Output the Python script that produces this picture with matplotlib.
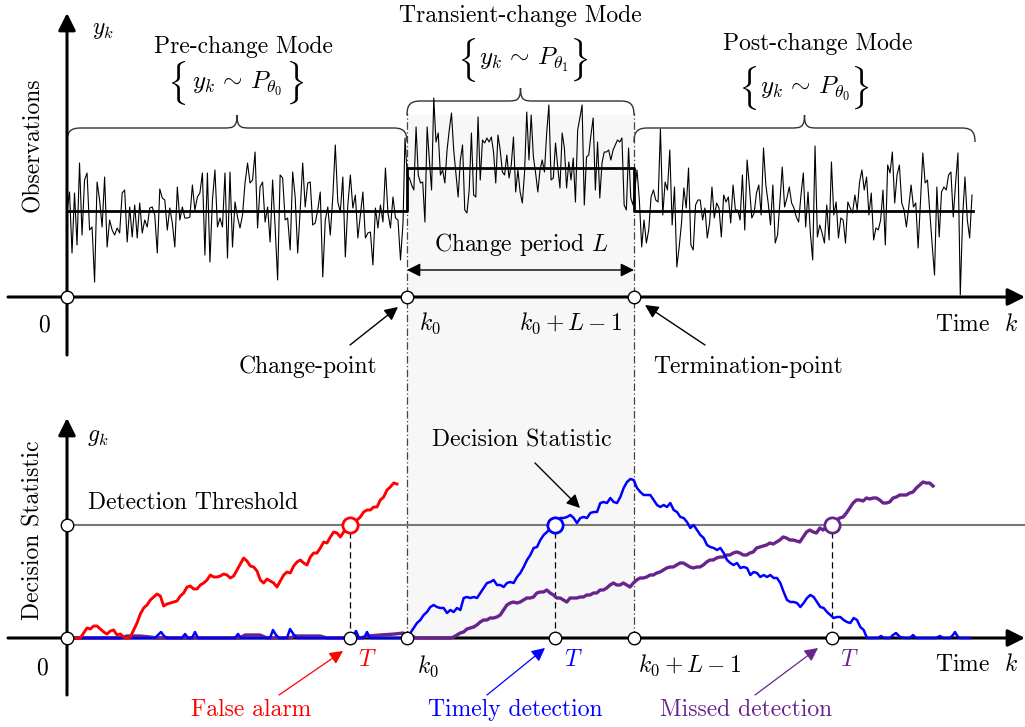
import numpy as np
import matplotlib.pyplot as plt
from matplotlib.path import Path
from matplotlib.patches import PathPatch, Rectangle

plt.rcParams['font.family'] = 'serif'
plt.rcParams['font.serif'] = ['cmr10']
plt.rcParams['mathtext.fontset'] = 'cm'
plt.rcParams['axes.unicode_minus'] = False

# --- data (time in arbitrary units, values in arbitrary units) ---
k0 = 340
L = 228
k_end = 905
pre_mean = 86
change_mean = 129
h = 113                      # detection threshold
T_false, T_timely, T_missed = 283, 488, 765

obs_pre = [86, 105, 44, 104, 52, 134, 62, 117, 124, 67, 70, 15, 115, 97, 70, 120, 50, 77, 67, 62,
           69, 64, 104, 107, 55, 90, 60, 92, 59, 94, 64, 77, 70, 89, 90, 82, 44, 108, 99, 97,
           67, 89, 74, 50, 110, 77, 90, 79, 79, 80, 112, 87, 100, 104, 124, 42, 124, 35, 97, 127,
           70, 79, 70, 124, 39, 125, 50,
           95, 80, 69, 82, 114, 134, 114, 117, 145, 69, 110, 115, 75, 90, 55, 117, 70, 17, 122, 119,
           77, 79, 47, 125, 100, 44, 87, 134, 90, 114, 115, 72, 74, 87, 105, 20, 77, 90, 62, 100,
           152, 95, 85, 120, 40, 92, 122, 89, 102, 59, 82, 105, 59, 64, 65, 32, 89, 69, 92, 75,
           129, 84, 69, 100, 79, 77, 37, 74]
obs_change = [159, 122, 119, 112, 107, 170, 122, 114, 115, 75, 170, 137, 107, 199, 155, 164, 122, 127, 114, 147,
              167, 184, 147, 124, 100, 137, 152, 87, 84, 107, 164, 102, 100, 180, 117, 157, 154, 159, 155, 160,
              145, 114, 162, 147, 125, 122, 142, 119, 132, 160, 105, 127, 105, 94, 124, 185, 137, 182, 140, 124,
              105, 127, 137, 125, 164, 192, 117, 119, 154, 130, 109, 164, 149, 109, 135, 117, 139, 95, 167, 179,
              192, 92, 140, 142, 162, 179, 107, 155, 99, 134, 145, 145, 147, 137, 147, 152, 157, 155, 159, 92,
              87, 149, 99, 92]
obs_post = [127, 97, 50, 77, 54, 67, 100, 107, 97, 95, 168, 82, 115, 107, 147, 72, 110, 30, 50, 74,
            109, 89, 129, 52, 47, 92, 97, 97, 77, 89, 59, 74, 110, 79, 94, 89, 60, 102, 95, 100,
            74, 112, 87, 87, 77, 122, 67, 137, 110, 79, 84, 104, 112, 82, 149, 112, 94, 72, 112, 54,
            62, 95, 130, 90, 99, 110, 94, 89, 80, 75, 102, 124,
            70, 105, 64, 37, 151, 60, 72, 64, 54, 92, 57, 135, 82, 95, 59, 79, 77, 54, 95, 89,
            84, 102, 87, 115, 127, 107, 120, 82, 104, 57, 69, 67, 77, 107, 52, 132, 124, 145, 94, 122,
            132, 94, 87, 70, 90, 112, 90, 94, 49, 95, 144, 114, 117, 84, 52, 22, 110, 60, 105, 110,
            107, 122, 125, 80, 114, 144, 2, 80, 120, 77, 59, 102]

# false alarm path (red), evenly sampled from 0 to 330
g_red = [0, 0, 0, 0, 0, 5, 10, 9, 12, 12, 9, 6, 4, 7, 8, 3, 4, 1, 0, 1,
         8, 15, 24, 30, 33, 38, 41, 44, 42, 32, 34, 35, 36, 37, 42, 45, 51, 52, 49, 49,
         53, 55, 58, 63, 61, 61, 62, 64, 63, 60, 62, 68, 74, 80, 77, 72, 71, 67, 58, 55,
         59, 57, 55, 51, 57, 63, 66, 65, 72, 76, 78, 75, 73, 81, 85, 85, 90, 96, 95, 101,
         106, 105, 101, 106, 111, 113, 116, 118, 121, 126, 128, 128, 131, 131, 138, 141, 148, 151, 155, 154]

# timely detection path (blue)
t_blue_pre = [0, 88, 91, 94, 97, 100, 115, 118, 121, 125, 128, 131, 168, 171, 174, 203, 206, 209, 212,
              220, 223, 227, 230, 285, 289, 292, 297, 300, 303, 335]
g_blue_pre = [0, 0, 3, 6, 2, 0, 0, 4, 0, 0, 6, 0, 0, 4, 0, 0, 8, 3, 0,
              0, 9, 3, 0, 0, 7, 0, 0, 6, 0, 0]
g_blue = [3, 5, 10, 15, 18, 23, 26, 31, 33, 31, 30, 30, 25, 28, 26, 30, 28, 40, 41, 40,
          41, 40, 45, 50, 55, 56, 58, 53, 53, 51, 55, 56, 55, 61, 65, 71, 78, 83, 90, 91,
          98, 103, 106, 110, 113, 116, 120, 120, 121, 123, 120, 115, 120, 121, 120, 125, 126, 126, 135, 136,
          135, 140, 136, 135, 141, 150, 156, 159, 158, 150, 146, 143, 143, 143, 138, 133, 131, 133, 131, 135,
          128, 126, 121, 120, 116, 110, 113, 108, 103,
          100, 93, 91, 90, 88, 90, 85, 78, 75, 73, 75, 70, 71, 70, 63, 66, 65, 61, 63, 61,
          63, 60, 60, 55, 46, 38, 36, 36, 35, 31, 35, 40, 43, 41, 36, 31, 30, 26, 23, 20,
          21, 21, 18, 16, 15, 20, 18, 11, 8, 0]
t_blue_tail = [800, 811, 814, 817, 823, 826, 829, 833, 838, 843, 846, 849, 869, 873, 876, 883, 886, 888, 891, 893, 903]
g_blue_tail = [0, 0, 2, 0, 0, 3, 5, 1, 0, 0, 3, 0, 0, 2, 0, 0, 3, 6, 1, 0, 0]

# missed detection path (purple)
t_purple_pre = [0, 53, 60, 73, 83, 90, 173, 178, 193, 200, 223, 228, 253, 260, 293, 301, 313, 328, 336]
g_purple_pre = [0, 0, 2, 2, 1, 0, 0, 3, 3, 0, 0, 2, 2, 0, 0, 2, 3, 4, 5]
g_purple = [3, 2, 1, 0, 0, 0, 0, 0, 0, 0, 0, 0, 0, 0, 1, 3, 5, 6, 9, 10,
            11, 13, 16, 18, 18, 20, 20, 21, 23, 28, 33, 35, 36, 35, 36, 38, 40, 40, 41, 45,
            46, 46, 48, 45, 43, 40, 40, 38, 36, 40, 40, 40, 41, 41, 43, 43, 45, 45, 48, 48,
            50, 53, 55, 53, 53, 55, 53, 51, 55, 58, 60, 60, 61, 63, 63, 65, 66, 68, 70, 71,
            71, 73, 75, 75, 73, 71, 70, 71, 71,
            73, 76, 78, 78, 80, 81, 81, 83, 83, 85, 86, 85, 83, 83, 85, 86, 90, 91, 92, 93,
            95, 94, 96, 98, 101, 100, 98, 98, 97, 96, 101, 106, 108, 106, 105, 110, 108, 111, 113, 115,
            118, 120, 121, 125, 130, 135, 138, 138, 137, 140, 139, 140, 140, 138, 135, 135, 136, 140, 141, 143,
            143, 143, 145, 146, 150, 153, 156, 155, 155, 152]

red = '#ff0000'
blue = '#0000ff'
purple = '#68248c'
FS = 17

fig = plt.figure(figsize=(10.25, 7.27), dpi=100)
ax_bot = fig.add_axes([0, 0, 1, 1])
ax_top = fig.add_axes([0, 0, 1, 1])
for ax in (ax_bot, ax_top):
    ax.set_xlim(-67, 958)
    ax.axis('off')
    ax.patch.set_alpha(0)
ax_top.set_ylim(-430, 297)
ax_bot.set_ylim(-89, 638)
k1 = k0 + L - 1


def axis_arrow(ax, start, end, lw=2.2):
    ax.annotate('', xy=end, xytext=start,
                arrowprops=dict(arrowstyle='-|>', lw=lw, color='black',
                                mutation_scale=26, shrinkA=0, shrinkB=0))


def brace(ax, x0, x1, y0, d=14, tip=13, r=14):
    xm = (x0 + x1) / 2
    yl = y0 + d
    verts = [(x0, y0), (x0, y0 + d * 0.8), (x0 + r * 0.3, yl), (x0 + r, yl),
             (xm - r, yl), (xm - r * 0.3, yl), (xm, yl), (xm, yl + tip),
             (xm, yl), (xm + r * 0.3, yl), (xm + r, yl),
             (x1 - r, yl), (x1 - r * 0.3, yl), (x1, y0 + d * 0.8), (x1, y0)]
    codes = [Path.MOVETO, Path.CURVE4, Path.CURVE4, Path.CURVE4,
             Path.LINETO, Path.CURVE4, Path.CURVE4, Path.CURVE4,
             Path.CURVE4, Path.CURVE4, Path.CURVE4,
             Path.LINETO, Path.CURVE4, Path.CURVE4, Path.CURVE4]
    ax.add_patch(PathPatch(Path(verts, codes), fill=False, lw=1.0, color='#333333'))


def set_formula(ax, xc, y, theta, half=59):
    # large braces drawn separately so they wrap the expression like \Big\{ ... \Big\}
    ax.text(xc - half, y, r'$\{$', fontsize=26, ha='center', va='center')
    ax.text(xc + half, y, r'$\}$', fontsize=26, ha='center', va='center')
    ax.text(xc + 1, y, r'$y_k\,\sim\,P_{\theta_%s}$' % theta,
            fontsize=FS + 1, ha='center', va='center')


def open_circle(ax, x, y, ec='black', ms=9, mew=1.0):
    ax.plot(x, y, 'o', ms=ms, mfc='white', mec=ec, mew=mew, zorder=10, clip_on=False)


# shaded transient period + boundary lines (span both panels)
ax_bot.add_patch(Rectangle((k0, 0), k1 - k0, 523, color='#f7f7f7', zorder=0, clip_on=False))
for xv in (k0, k1):
    ax_bot.plot([xv, xv], [0, 525], color='#444444', lw=0.9, ls=(0, (6, 2, 1, 2)), zorder=1)

# ---------- top panel: observations ----------
x_pre = np.linspace(0, k0 - 4, len(obs_pre))
x_chg = np.linspace(k0 - 2, k1 - 1, len(obs_change))
x_post = np.linspace(k1 + 3, k_end, len(obs_post))
ax_top.plot(np.concatenate([x_pre, x_chg, x_post]), obs_pre + obs_change + obs_post,
            color='black', lw=0.8, zorder=3)
ax_top.plot([0, k0, k0, k1, k1, k_end + 1],
            [pre_mean, pre_mean, change_mean, change_mean, pre_mean, pre_mean],
            color='black', lw=2.0, zorder=4)

axis_arrow(ax_top, (0, -58), (0, 284))
axis_arrow(ax_top, (-59, 0), (958, 0))
for xv in (0, k0, k1):
    open_circle(ax_top, xv, 0)

brace(ax_top, 0, k0, 155)
brace(ax_top, k0, k1, 182)
brace(ax_top, k1, 908, 155)

ax_top.text(36, 267, r'$y_k$', fontsize=FS, ha='center', va='center')
ax_top.text(176, 250, 'Pre-change Mode', fontsize=FS, ha='center', va='center')
set_formula(ax_top, 169, 214, '0')
ax_top.text(453, 281, 'Transient-change Mode', fontsize=FS, ha='center', va='center')
set_formula(ax_top, 456, 237, '1', half=56)
ax_top.text(751, 253, 'Post-change Mode', fontsize=FS, ha='center', va='center')
set_formula(ax_top, 737, 209, '0', half=56)
ax_top.text(-34, 152, 'Observations', fontsize=FS, ha='center', va='center', rotation=90)

ax_top.text((k0 + k1) / 2 + 1, 52, r'Change period $L$', fontsize=FS, ha='center', va='center')
ax_top.annotate('', xy=(k0, 27), xytext=(k1, 27),
                arrowprops=dict(arrowstyle='<|-|>', lw=1.0, color='black',
                                mutation_scale=20, shrinkA=0, shrinkB=0))

ax_top.text(-23, -28, '0', fontsize=FS, ha='center', va='center')
ax_top.text(k0 + 23, -26, r'$k_0$', fontsize=FS, ha='center', va='center')
ax_top.text(k1 - 63, -26, r'$k_0+L-1$', fontsize=FS, ha='center', va='center')
ax_top.text(951, -28, r'Time  $k$', fontsize=FS, ha='right', va='center')
ax_top.text(241, -70, 'Change-point', fontsize=FS, ha='center', va='center')
ax_top.annotate('', xy=(331, -10), xytext=(283, -48),
                arrowprops=dict(arrowstyle='-|>', lw=1.0, color='black', mutation_scale=20,
                                shrinkA=0, shrinkB=0))
ax_top.text(681, -70, 'Termination-point', fontsize=FS, ha='center', va='center')
ax_top.annotate('', xy=(578, -8), xytext=(638, -48),
                arrowprops=dict(arrowstyle='-|>', lw=1.0, color='black', mutation_scale=20,
                                shrinkA=0, shrinkB=0))

# ---------- bottom panel: decision statistic ----------
ax_bot.plot([0, 958], [h, h], color='#777777', lw=1.5, zorder=2)
x_red = np.linspace(0, 330, len(g_red))
x_blue = np.linspace(k0, 800, len(g_blue))
x_purple = np.linspace(k0, 866, len(g_purple))
ax_bot.plot(t_purple_pre + list(x_purple), g_purple_pre + g_purple, color=purple, lw=2.4, zorder=5)
ax_bot.plot(t_blue_pre + list(x_blue) + t_blue_tail, g_blue_pre + g_blue + g_blue_tail,
            color=blue, lw=1.8, zorder=6)
ax_bot.plot(x_red, g_red, color=red, lw=2.1, zorder=7)

axis_arrow(ax_bot, (0, -57), (0, 220))
axis_arrow(ax_bot, (-59, 0), (958, 0))

for tv, c in ((T_false, red), (T_timely, blue), (T_missed, purple)):
    ax_bot.plot([tv, tv], [0, h], color='black', lw=0.9, ls=(0, (5, 3)), zorder=3)
    open_circle(ax_bot, tv, h, ec=c, ms=11, mew=2.0)
for xv in (0, T_false, k0, T_timely, k1, T_missed):
    open_circle(ax_bot, xv, 0)
open_circle(ax_bot, 0, h)

ax_bot.text(31, 201, r'$g_k$', fontsize=FS, ha='center', va='center')
ax_bot.text(-34, 108, 'Decision Statistic', fontsize=FS, ha='center', va='center', rotation=90)
ax_bot.text(21, 135, 'Detection Threshold', fontsize=FS, ha='left', va='center')
ax_bot.text(455, 198, 'Decision Statistic', fontsize=FS, ha='center', va='center')
ax_bot.annotate('', xy=(513, 130), xytext=(468, 175),
                arrowprops=dict(arrowstyle='-|>', lw=1.0, color='black', mutation_scale=20,
                                shrinkA=0, shrinkB=0))

ax_bot.text(-25, -30, '0', fontsize=FS, ha='center', va='center')
ax_bot.text(T_false + 17, -22, r'$T$', fontsize=FS, ha='center', va='center', color=red)
ax_bot.text(k0 + 21, -28, r'$k_0$', fontsize=FS, ha='center', va='center')
ax_bot.text(T_timely + 18, -22, r'$T$', fontsize=FS, ha='center', va='center', color=blue)
ax_bot.text(k1 + 56, -27, r'$k_0+L-1$', fontsize=FS, ha='center', va='center')
ax_bot.text(T_missed + 17, -22, r'$T$', fontsize=FS, ha='center', va='center', color=purple)
ax_bot.text(951, -27, r'Time  $k$', fontsize=FS, ha='right', va='center')

for label, c, txt_x, tail, head in (('False alarm', red, 184, (212, -57), (276, -13)),
                                    ('Timely detection', blue, 448, (420, -57), (478, -10)),
                                    ('Missed detection', purple, 679, (688, -57), (751, -10))):
    ax_bot.text(txt_x, -72, label, fontsize=FS, ha='center', va='center', color=c)
    ax_bot.annotate('', xy=head, xytext=tail,
                    arrowprops=dict(arrowstyle='-|>', lw=0.9, color=c, mutation_scale=20,
                                    shrinkA=0, shrinkB=0))

fig.savefig('out.png', dpi=100)
